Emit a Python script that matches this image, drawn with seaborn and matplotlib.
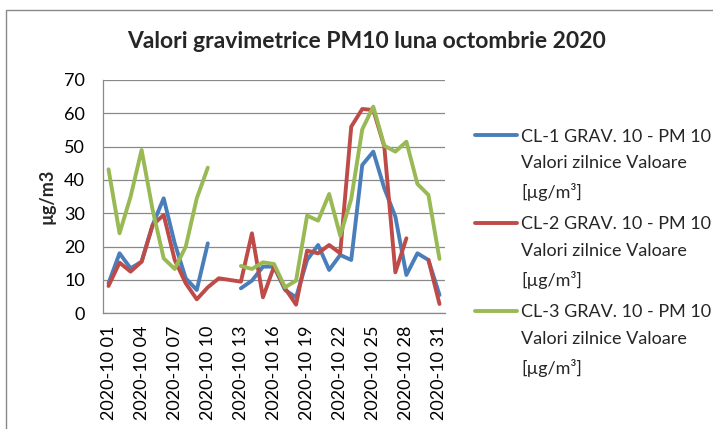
import matplotlib
matplotlib.use('Agg')
import matplotlib.pyplot as plt
import numpy as np
import pandas as pd
import seaborn as sns
from matplotlib.lines import Line2D
from matplotlib.patches import Rectangle

nan = np.nan

# days of October 2020, as shown on the category axis
days = ['2020-10 %02d' % d for d in range(1, 32)]

cl1 = [9, 18, 13.5, 15.5, 26.5, 34.5, 21, 10.5, 7, 21, nan, nan, 7.5, 9.8, 14, 14,
       7, 4.8, 16, 20.5, 13, 17.5, 16, 44.5, 48.5, 37.5, 29, 11.5, 18, 16, 5.5]
cl2 = [8.2, 15.2, 12.5, 15.5, 26.5, 29.5, 16, 9, 4.2, 7.8, 10.5, 10, 9.5, 24, 4.8, 14,
       7.5, 2.6, 18.8, 18, 20.5, 18, 56, 61.3, 61, 50, 12.3, 22.5, nan, 16, 2.8]
cl3 = [43.2, 24, 35, 49, 31, 16.5, 13.3, 20, 34.5, 43.7, nan, nan, 14.2, 13.3, 15.3, 14.8,
       7.8, 9.8, 29.3, 27.8, 35.8, 23.3, 34.3, 55.2, 62, 50.3, 48.5, 51.5, 38.8, 35.5, 16.3]

names = ['CL-1 GRAV. 10 - PM 10\nValori zilnice Valoare\n[µg/m³]',
         'CL-2 GRAV. 10 - PM 10\nValori zilnice Valoare\n[µg/m³]',
         'CL-3 GRAV. 10 - PM 10\nValori zilnice Valoare\n[µg/m³]']
colors = ['#4A7EBB', '#BE4B48', '#98B954']

# long table; gaps in a series split it into separate segments (units)
rows = []
for name, vals in zip(names, [cl1, cl2, cl3]):
    seg = 0
    gap = True
    for i, v in enumerate(vals):
        if np.isnan(v):
            gap = True
            continue
        if gap:
            seg += 1
            gap = False
        rows.append({'day': i, 'value': v, 'series': name, 'seg': seg})
df = pd.DataFrame(rows)

sns.set_style('white')
plt.rcParams['font.family'] = ['Lato', 'DejaVu Sans']

fig = plt.figure(figsize=(7.13, 4.29), dpi=100)
ax = fig.add_axes([103 / 713, 1 - 313.3 / 429, 342 / 713, (313.3 - 80) / 429])

sns.lineplot(data=df, x='day', y='value', hue='series', units='seg', estimator=None,
             palette=colors, hue_order=names, linewidth=2.8, legend=False, ax=ax,
             solid_joinstyle='round', solid_capstyle='round')

grey = '#898989'
ax.set_xlim(-0.5, 30.5)
ax.set_ylim(0, 70)
ax.set_yticks(range(0, 71, 10))
ax.yaxis.grid(True, color=grey, linewidth=0.9)
ax.set_axisbelow(True)
ax.set_xticks(range(0, 31, 3))
ax.set_xticklabels(days[::3], rotation=90)
ax.tick_params(axis='x', length=0, pad=9, labelsize=13, colors='black')
ax.tick_params(axis='y', length=0, pad=13, labelsize=13, colors='black')
for s in ['top', 'right']:
    ax.spines[s].set_visible(False)
for s in ['left', 'bottom']:
    ax.spines[s].set_color(grey)
    ax.spines[s].set_linewidth(0.9)
ax.set_xlabel('')
ax.set_ylabel('µg/m3', fontsize=13, fontweight='bold')
ax.yaxis.set_label_coords(-0.14, 0.5)

fig.text(367 / 713, 1 - 42 / 429, 'Valori gravimetrice PM10 luna octombrie 2020',
         ha='center', va='center', fontsize=16.5, fontweight='bold')

handles = [Line2D([], [], color=c, linewidth=2.8) for c in colors]
leg = fig.legend(handles, names, loc='upper left', bbox_to_anchor=(475 / 713, 1 - 128.5 / 429),
                 frameon=False, fontsize=13, borderpad=0, borderaxespad=0,
                 handlelength=2.3, handletextpad=0.25, handleheight=0.85, labelspacing=0.86)
for t in leg.get_texts():
    t.set_linespacing(1.8)
# put the line sample next to the first line of each label
for col in leg._legend_handle_box.get_children():
    for row in col.get_children():
        row.align = 'top'

# outer chart border (only top and left edges fall inside the image)
fig.patches.append(Rectangle((6 / 713, -0.1), 1.2, 1.1 - 10 / 429, transform=fig.transFigure,
                             fill=False, edgecolor=grey, linewidth=1))

fig.savefig('out.png', dpi=100)
